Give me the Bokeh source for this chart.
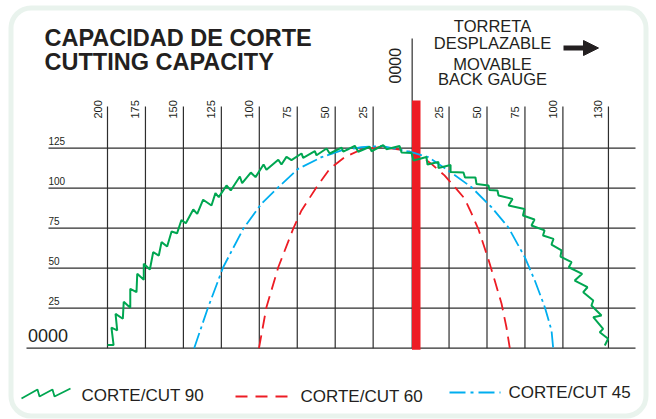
import numpy as np
from bokeh.plotting import figure
from bokeh.models import Range1d, BoxAnnotation, Arrow, NormalHead
from bokeh.core.properties import value
from bokeh.embed import file_html
from bokeh.resources import INLINE

# ---------------- data ----------------
x_tick_values = [-200, -175, -150, -125, -100, -75, -50, -25, 25, 50, 75, 100, 130]
x_tick_labels = ["200", "175", "150", "125", "100", "75", "50", "25", "25", "50", "75", "100", "130"]
y_tick_values = [25, 50, 75, 100, 125]
y_tick_labels = ["25", "50", "75", "100", "125"]

cut90_x = [-200, -196, -197.4, -193.6, -194.7, -189.9, -189.3, -185, -185, -180.9,
           -180.4, -176.1, -176.1, -172.1, -169.9, -166.2, -164.4, -160.7, -157.8, -154.2,
           -151.3, -148.4, -143.5, -140.9, -137, -131.5, -128.9, -126.7, -121.6, -118.8,
           -112.8, -111.3, -105.6, -102.5, -97.2, -95.3, -87.5, -85.4, -82.1, -78.8,
           -72.2, -71.1, -63.4, -62.3, -55.7, -53.6, -45.8, -44.7, -37.1, -34.8,
           -27.2, -26.1, -18.4, -16.2, -7.6, -6.3, 0.3, 1.6, 10.1, 10.8,
           18.0, 18.0, 26.0, 26.0, 34.5, 35.5, 42.4, 43.1, 51.0, 51.6,
           56.9, 57.6, 66.8, 64.2, 74.7, 73.7, 81.3, 79.3, 87.9, 86.9,
           93.8, 92.5, 99.1, 98.4, 105.7, 103.9, 112.7, 107.8, 116.2, 113.4,
           120, 118.8, 125.4, 120, 126.5, 124.3, 129.8, 127.6]
cut90_y = [2, 2, 12.8, 11.1, 21.5, 18.4, 29, 25.3, 37.1, 35,
           46.5, 42.8, 52.8, 49.2, 60, 57.9, 66.3, 63.6, 72.9, 71.8,
           80.1, 78.1, 86.7, 84, 92.8, 89.2, 96.9, 94.4, 101.7, 98.6,
           107.3, 103.1, 109.8, 106.9, 114.8, 111.5, 117.8, 114.8, 119.6, 117.5,
           121.7, 119, 123.1, 120.6, 124.8, 121.7, 125.3, 122.8, 126.5, 122.8,
           125.9, 123.1, 126.9, 124.4, 126.4, 122.3, 122, 117.3, 119.5, 114.8,
           116.4, 112.6, 114.5, 110.1, 109.8, 106.7, 106.7, 102.6, 101.7, 98.9,
           98.6, 95.4, 93.3, 89.2, 87, 82.9, 80.4, 76.7, 73.6, 70.4,
           68.3, 64.8, 61.1, 57.3, 53.8, 50.6, 46.5, 42.3, 38.1, 35,
           29.8, 26.7, 20.4, 19.4, 12.1, 10, 5.9, 1.7]

cut60_x = [-100.2, -95.3, -87.5, -77.7, -72.2, -62.3, -53.6, -43.7, -32.7, -19.5, -6.3, 4.2,
           13.4, 22, 27.9, 35.2, 39.8, 44.4, 50.8, 55.1, 59.6, 62.8, 65]
cut60_y = [0, 25.6, 50.6, 74.6, 86.1, 100.6, 112.1, 119.4, 124.2, 125.8, 123.9, 121.7,
           115.2, 108, 101.7, 93.6, 84.2, 74.2, 55.9, 42.3, 27.8, 13.1, 0]

cut45_x = [-142.9, -133.7, -123.8, -110.6, -98.6, -87.5, -74.4, -59, -45.8, -32.7, -19.5,
           0.3, 11.3, 24.4, 39.8, 53, 64, 74.9, 81.5, 88.1, 92.5, 93.6]
cut45_y = [0, 25.6, 50.6, 74.6, 90.3, 100.6, 112.1, 119.4, 123.6, 125.6, 126.4,
           122.5, 119.4, 111.1, 100.6, 88.1, 75.6, 56.9, 42.3, 25.6, 11.1, 0]

assert len(cut90_x) == len(cut90_y)
assert len(cut60_x) == len(cut60_y)
assert len(cut45_x) == len(cut45_y)

# ---------------- layout helpers (picture pixel -> data) ----------------
W, H = 656, 419
ZERO_PX, KX = 410.6, 1.518
BASE_PX, KY = 347.7, 1.6


def X(px):
    return (px - ZERO_PX) / KX


def Y(py):
    return (BASE_PX - py) / KY


INK = "#231f20"
GRID = "#2e2e2e"
GREEN = "#00a651"
RED = "#ed1c24"
BLUE = "#00aeef"
FONT = "Liberation Sans"

p = figure(width=W, height=H, x_range=Range1d(X(0), X(W)), y_range=Range1d(Y(H), Y(0)),
           output_backend="svg", toolbar_location=None, min_border=0)
p.axis.visible = False
p.grid.visible = False
p.outline_line_color = None
p.background_fill_color = "white"
p.border_fill_color = "white"

# rounded frame
p.add_layout(BoxAnnotation(left=X(10.5), right=X(645.5), top=Y(7.5), bottom=Y(415.5),
                           fill_alpha=0, line_color="#b5d8c2", line_width=5,
                           border_radius=20, level="underlay"))

# grid
v_top = Y(106)
p.segment(x0=x_tick_values, y0=0, x1=x_tick_values, y1=v_top, line_color=GRID, line_width=1.2)
h_left, h_right = X(48), X(635)
p.segment(x0=h_left, y0=y_tick_values, x1=h_right, y1=y_tick_values, line_color=GRID, line_width=1.2)
p.segment(x0=[X(26)], y0=[0], x1=[h_right], y1=[0], line_color=GRID, line_width=1.2)
# zero (back gauge) line and red bar
p.segment(x0=[0.7], y0=[0], x1=[0.7], y1=[Y(38)], line_color=GRID, line_width=1.2)
p.quad(left=[0.6], right=[6.2], bottom=[-1], top=[Y(100)], fill_color=RED, line_color=None)


def txt(x, y, t, size, **kw):
    p.text(x=[x], y=[y], text=[t], text_font=value(FONT), text_font_size=size,
           text_color=INK, text_baseline="middle", **kw)


# tick labels (anchored at the vertical centre of the digits)
p.text(x=x_tick_values, y=[Y(118)] * len(x_tick_values), text=x_tick_labels, angle=np.pi / 2,
       x_offset=-10, text_align="left", text_baseline="middle",
       text_font=value(FONT), text_font_size="11px", text_color=INK)
p.text(x=[h_left] * len(y_tick_values), y=[v + 7 / KY for v in y_tick_values], text=y_tick_labels,
       text_align="left", text_baseline="middle",
       text_font=value(FONT), text_font_size="10px", text_color=INK)
txt(X(27.5), Y(335), "0000", "18px", text_align="left")
txt(X(394), Y(83), "0000", "16px", text_align="left", angle=np.pi / 2)

# curves
p.line(cut60_x, cut60_y, line_color=RED, line_width=1.8, line_dash="13 7")
p.line(cut45_x, cut45_y, line_color=BLUE, line_width=1.8, line_dash="16 4 3 4")
p.line(cut90_x, cut90_y, line_color=GREEN, line_width=2)

# titles
for t, cy in [("CAPACIDAD DE CORTE", 37.5), ("CUTTING CAPACITY", 61.5)]:
    txt(X(44), Y(cy), t, "23.5px", text_align="left", text_font_style="bold")
for t, cy in [("TORRETA", 25), ("DESPLAZABLE", 42), ("MOVABLE", 63.5), ("BACK GAUGE", 78.5)]:
    txt(X(492), Y(cy), t, "16.5px", text_align="center")
p.add_layout(Arrow(end=NormalHead(size=15, fill_color=INK, line_color=INK),
                   x_start=X(563), y_start=Y(47.5), x_end=X(598), y_end=Y(47.5),
                   line_width=5, line_color=INK))

# legend
p.line([X(21), X(37), X(39), X(52), X(54), X(70)],
       [Y(398), Y(389), Y(396), Y(389), Y(396), Y(388)], line_color=GREEN, line_width=1.8)
p.line([X(235), X(288)], [Y(396), Y(396)], line_color=RED, line_width=1.8, line_dash="12 8")
p.line([X(449), X(500)], [Y(392), Y(392)], line_color=BLUE, line_width=1.8, line_dash="16 5 3 5")
for t, lx, cy in [("CORTE/CUT 90", 81, 395), ("CORTE/CUT 60", 300, 396), ("CORTE/CUT 45", 508, 392)]:
    txt(X(lx), Y(cy), t, "17px", text_align="left")

open("out.html", "w").write(file_html(p, INLINE))
